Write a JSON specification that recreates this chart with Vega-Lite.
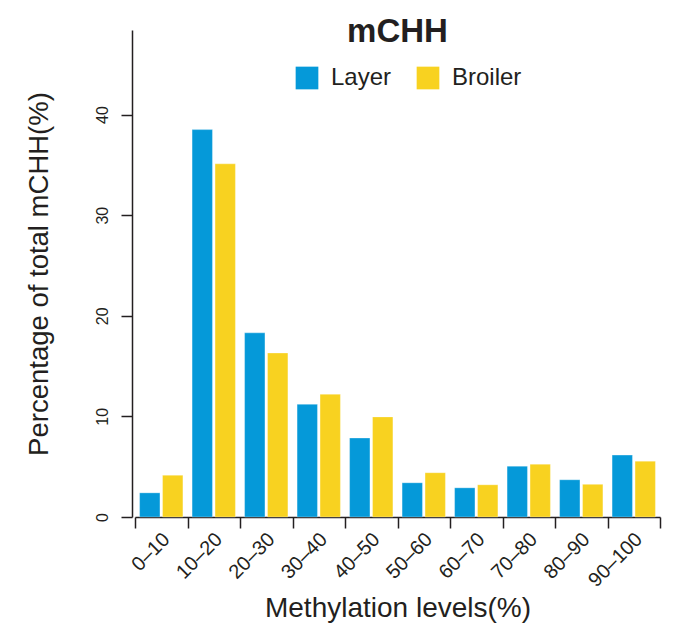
{
  "$schema": "https://vega.github.io/schema/vega-lite/v6.json",
  "width": 525,
  "height": 487,
  "autosize": {"type": "none"},
  "padding": {"left": 135, "top": 30, "right": 20, "bottom": 109},
  "config": {
    "font": "Liberation Sans",
    "view": {"stroke": null},
    "axis": {"domainColor": "#231f20", "tickColor": "#231f20", "labelColor": "#231f20", "titleColor": "#231f20", "domainWidth": 1.5, "tickWidth": 1.5, "grid": false, "titleFontWeight": "normal"}
  },
  "title": {"text": "mCHH", "fontSize": 33, "fontWeight": "bold", "anchor": "middle", "color": "#231f20", "offset": -19},
  "data": {
    "values": [
      {"bin": "0–10", "group": "Layer", "value": 2.4},
      {"bin": "0–10", "group": "Broiler", "value": 4.15},
      {"bin": "10–20", "group": "Layer", "value": 38.5},
      {"bin": "10–20", "group": "Broiler", "value": 35.1},
      {"bin": "20–30", "group": "Layer", "value": 18.3},
      {"bin": "20–30", "group": "Broiler", "value": 16.3},
      {"bin": "30–40", "group": "Layer", "value": 11.2},
      {"bin": "30–40", "group": "Broiler", "value": 12.2},
      {"bin": "40–50", "group": "Layer", "value": 7.85},
      {"bin": "40–50", "group": "Broiler", "value": 9.95},
      {"bin": "50–60", "group": "Layer", "value": 3.4},
      {"bin": "50–60", "group": "Broiler", "value": 4.4},
      {"bin": "60–70", "group": "Layer", "value": 2.9},
      {"bin": "60–70", "group": "Broiler", "value": 3.2},
      {"bin": "70–80", "group": "Layer", "value": 5.05},
      {"bin": "70–80", "group": "Broiler", "value": 5.25},
      {"bin": "80–90", "group": "Layer", "value": 3.7},
      {"bin": "80–90", "group": "Broiler", "value": 3.25},
      {"bin": "90–100", "group": "Layer", "value": 6.15},
      {"bin": "90–100", "group": "Broiler", "value": 5.55}
    ]
  },
  "mark": {"type": "bar", "stroke": "#ffffff", "strokeWidth": 0.5, "strokeOpacity": 0.6},
  "encoding": {
    "x": {
      "field": "bin",
      "type": "nominal",
      "sort": ["0–10", "10–20", "20–30", "30–40", "40–50", "50–60", "60–70", "70–80", "80–90", "90–100"],
      "scale": {"paddingInner": 0, "paddingOuter": 0},
      "axis": {
        "title": "Methylation levels(%)",
        "titleFontSize": 28,
        "titlePadding": 4,
        "tickBand": "extent",
        "tickSize": 11,
        "labelAngle": -45,
        "labelAlign": "right",
        "labelBaseline": "middle",
        "labelFontSize": 20,
        "labelPadding": 8,
        "labelOffset": 5
      }
    },
    "xOffset": {
      "field": "group",
      "type": "nominal",
      "sort": ["Layer", "Broiler"],
      "scale": {"paddingInner": 0.113, "paddingOuter": 0.2}
    },
    "y": {
      "field": "value",
      "type": "quantitative",
      "scale": {"domain": [0, 48.4], "nice": false, "zero": true},
      "axis": {
        "title": "Percentage of total mCHH(%)",
        "titleFontSize": 27.5,
        "titlePadding": 41,
        "values": [0, 10, 20, 30, 40],
        "offset": 3,
        "tickSize": 11,
        "labelAngle": -90,
        "labelAlign": "center",
        "labelBaseline": "alphabetic",
        "labelFontSize": 16,
        "labelPadding": 14
      }
    },
    "color": {
      "field": "group",
      "type": "nominal",
      "sort": ["Layer", "Broiler"],
      "scale": {"domain": ["Layer", "Broiler"], "range": ["#0599d9", "#f8d220"]},
      "legend": {
        "title": null,
        "orient": "none",
        "direction": "horizontal",
        "legendX": 160,
        "legendY": 36,
        "symbolType": "square",
        "symbolSize": 515,
        "symbolStrokeWidth": 0,
        "symbolOpacity": 1,
        "labelFontSize": 24,
        "labelColor": "#231f20",
        "labelOffset": 12,
        "columnPadding": 24
      }
    }
  }
}
